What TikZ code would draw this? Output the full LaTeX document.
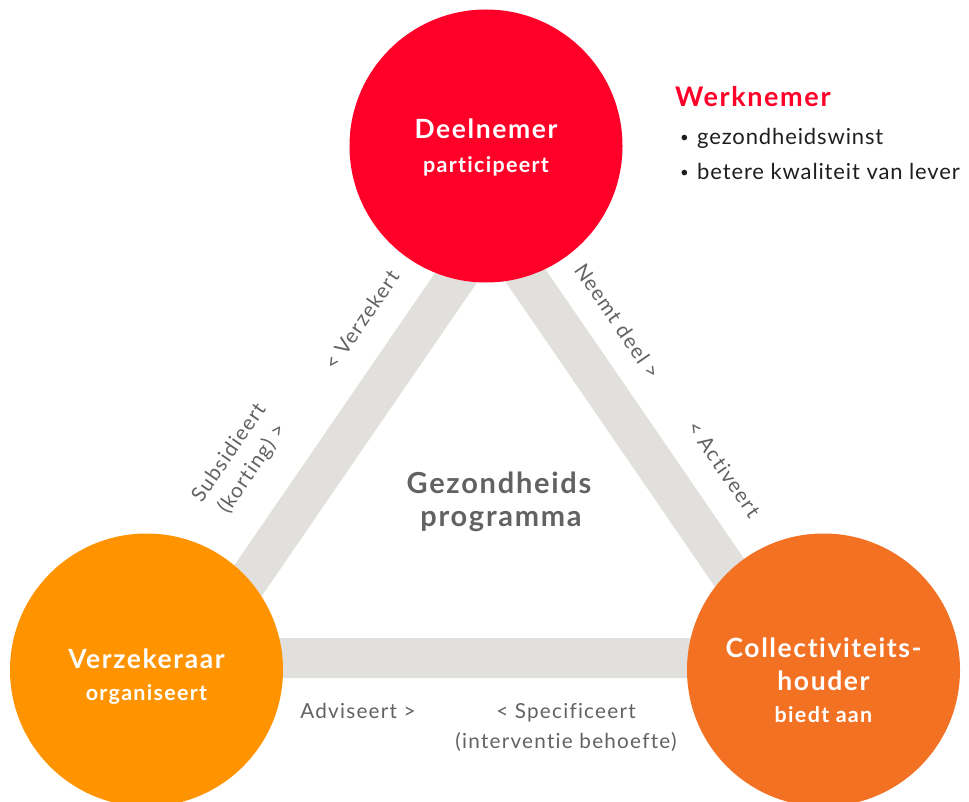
\documentclass[tikz,border=0pt]{standalone}
\usepackage{fontspec}
\setmainfont{Lato}[Ligatures=NoCommon,LetterSpace=6]
\definecolor{deelred}{RGB}{255,0,40}
\definecolor{verzorange}{RGB}{255,148,0}
\definecolor{collorange}{RGB}{243,113,35}
\definecolor{barfill}{RGB}{225,224,220}
\definecolor{labelgray}{RGB}{98,98,98}
\definecolor{bodyblack}{RGB}{30,30,30}
\begin{document}
\begin{tikzpicture}[x=1pt,y=-1pt,
  bar/.style={draw=barfill,line width=40pt,line join=miter},
  party/.style={circle,inner sep=0pt,minimum size=273pt},
  ptitle/.style={text=white,anchor=base,font=\fontsize{26.5}{30}\selectfont\bfseries},
  prole/.style={text=white,anchor=base,font=\fontsize{21.5}{24}\selectfont\bfseries},
  edgelabel/.style={text=labelgray,align=center,inner sep=0pt,font=\fontsize{20.7}{28}\selectfont},
  centertitle/.style={text=labelgray,anchor=base,font=\fontsize{29}{32}\selectfont\bfseries},
  bulletline/.style={text=bodyblack,anchor=base west,inner sep=0pt,font=\fontsize{22}{26}\selectfont\addfontfeatures{LetterSpace=4}}]
\useasboundingbox (0,0) rectangle (969,802);

% corners of the grey triangle
\coordinate (apex) at (491.5,226);
\coordinate (baseL) at (195,658);
\coordinate (baseR) at (788,658);
\draw[bar] (apex) -- (baseL) -- (baseR) -- cycle;

% the three parties
\node[party,fill=deelred] (deel) at (486,146) {};
\node[party,fill=verzorange] (verz) at (146.5,670) {};
\node[party,fill=collorange] (coll) at (823.5,670) {};

\node[ptitle] (deelT) at (486,139) {Deelnemer};
\node[prole] (deelR) at (486,173) {participeert};
\node[ptitle] (verzT) at (146.5,668) {Verzekeraar};
\node[prole] (verzR) at (146.5,700) {organiseert};
\node[ptitle] (collT) at (823.5,657) {Collectiviteits-};
\node[ptitle] (collH) at (823.5,690) {houder};
\node[prole] (collR) at (823.5,722) {biedt aan};

% programme in the middle
\node[centertitle] (progA) at (499,493) {Gezondheids};
\node[centertitle] (progB) at (501,526) {programma};

% relations along the sides
\node[edgelabel,rotate=55.5] (lVerz) at (361.5,320) {< Verzekert};
\node[edgelabel,rotate=55.5] (lSubs) at (241,461) {Subsidieert\\(korting) >};
\node[edgelabel,rotate=-55.5] (lNeemt) at (617.5,321) {Neemt deel >};
\node[edgelabel,rotate=-55.5] (lAct) at (724,469) {< Activeert};
\node[edgelabel,anchor=base] (lAdv) at (358,718) {Adviseert >};
\node[edgelabel,anchor=base] (lSpec) at (566,718) {< Specificeert};
\node[edgelabel,anchor=base] (lSpec2) at (566,748) {(interventie behoefte)};

% benefits for the employee
\node[anchor=base west,inner sep=0pt,text=deelred,font=\fontsize{27}{30}\selectfont\bfseries] (werk) at (675,107) {Werknemer};
\node[bulletline,font=\fontsize{15}{18}\selectfont] (b1dot) at (680,143) {•};
\node[bulletline] (b1) at (697,145) {gezondheidswinst};
\node[bulletline,font=\fontsize{15}{18}\selectfont] (b2dot) at (680,178) {•};
\node[bulletline] (b2) at (697,180) {betere kwaliteit van lever};
\end{tikzpicture}
\end{document}
